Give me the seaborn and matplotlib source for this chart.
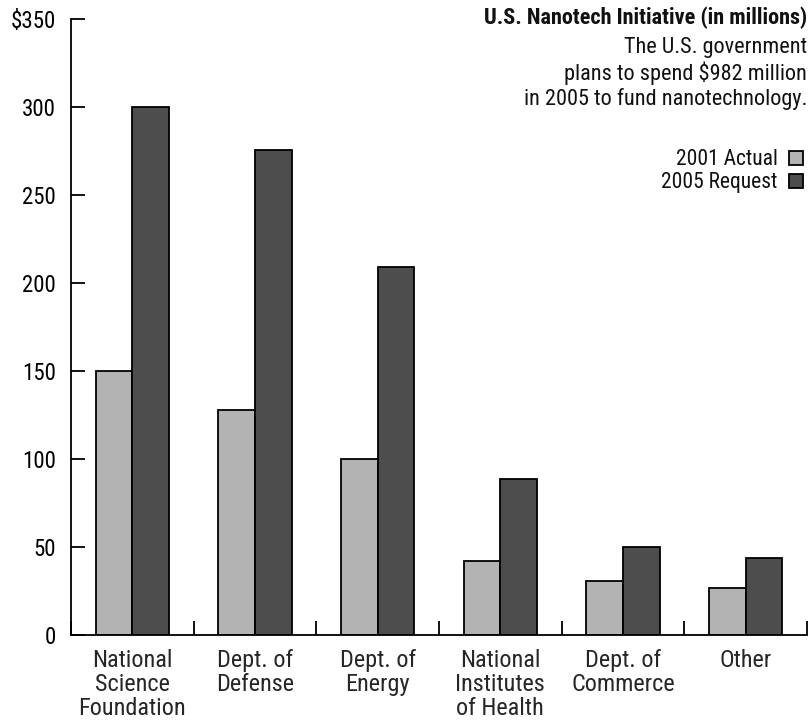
import pandas as pd
import matplotlib
matplotlib.use("Agg")
import matplotlib.pyplot as plt
import matplotlib.font_manager as fm
import seaborn as sns

agencies = ["National\nScience\nFoundation", "Dept. of\nDefense", "Dept. of\nEnergy",
            "National\nInstitutes\nof Health", "Dept. of\nCommerce", "Other"]
actual_2001 = [150, 128, 100, 42, 31, 27]
request_2005 = [300, 276, 209, 89, 50, 44]
series = ["2001 Actual", "2005 Request"]
yticks = [0, 50, 100, 150, 200, 250, 300, 350]
ytick_labels = ["0", "50", "100", "150", "200", "250", "300", "$350"]

df = pd.DataFrame({
    "agency": agencies * 2,
    "series": [series[0]] * len(agencies) + [series[1]] * len(agencies),
    "amount": actual_2001 + request_2005,
})

sns.set_style("white")
names = {f.name for f in fm.fontManager.ttflist}
font = "DejaVu Sans"
for cand in ["Liberation Sans Narrow", "Roboto Condensed", "Open Sans Condensed", "Roboto"]:
    if cand in names:
        font = cand
        break
plt.rcParams["font.family"] = [font, "DejaVu Sans"]
plt.rcParams["text.color"] = "#111111"

fig = plt.figure(figsize=(8.12, 7.2), dpi=100)
ax = fig.add_axes([0.0874, 0.118, 0.9064, 0.855])

sns.barplot(data=df, x="agency", y="amount", hue="series",
            palette=["#b3b3b3", "#4d4d4d"], width=0.6,
            edgecolor="black", linewidth=1.3, ax=ax)

ax.set_xlim(-0.5, 5.5)
ax.set_ylim(0, 350)
ax.set_yticks(yticks)
ax.set_yticklabels(ytick_labels)
ax.set_xlabel("")
ax.set_ylabel("")
sns.despine(ax=ax, top=True, right=True)
for s in ["left", "bottom"]:
    ax.spines[s].set_color("black")
    ax.spines[s].set_linewidth(1.3)

ax.tick_params(axis="y", direction="in", length=10, width=1.3, pad=11,
               labelsize=16.5, left=True, colors="black")
ax.tick_params(axis="x", which="major", length=0, pad=10, labelsize=17.5)
ax.set_xticks([i - 0.5 for i in range(len(agencies) + 1)], minor=True)
ax.tick_params(axis="x", which="minor", direction="in", length=10, width=1.3,
               bottom=True, color="black")
for lab in ax.get_xticklabels():
    lab.set_linespacing(1.06)

leg = ax.legend(loc="upper right", bbox_to_anchor=(1.006, 0.803), markerfirst=False,
                frameon=False, fontsize=15.5, handlelength=0.62, handleheight=0.62,
                handletextpad=0.55, labelspacing=0.1, borderaxespad=0)

fig.text(0.994, 0.975, "U.S. Nanotech Initiative (in millions)", ha="right", va="center",
         fontsize=16, fontweight="bold")
fig.text(0.994, 0.934, "The U.S. government", ha="right", va="center", fontsize=16)
fig.text(0.994, 0.898, "plans to spend $982 million", ha="right", va="center", fontsize=16)
fig.text(0.994, 0.862, "in 2005 to fund nanotechnology.", ha="right", va="center", fontsize=16)

fig.savefig("out.png", dpi=100)
